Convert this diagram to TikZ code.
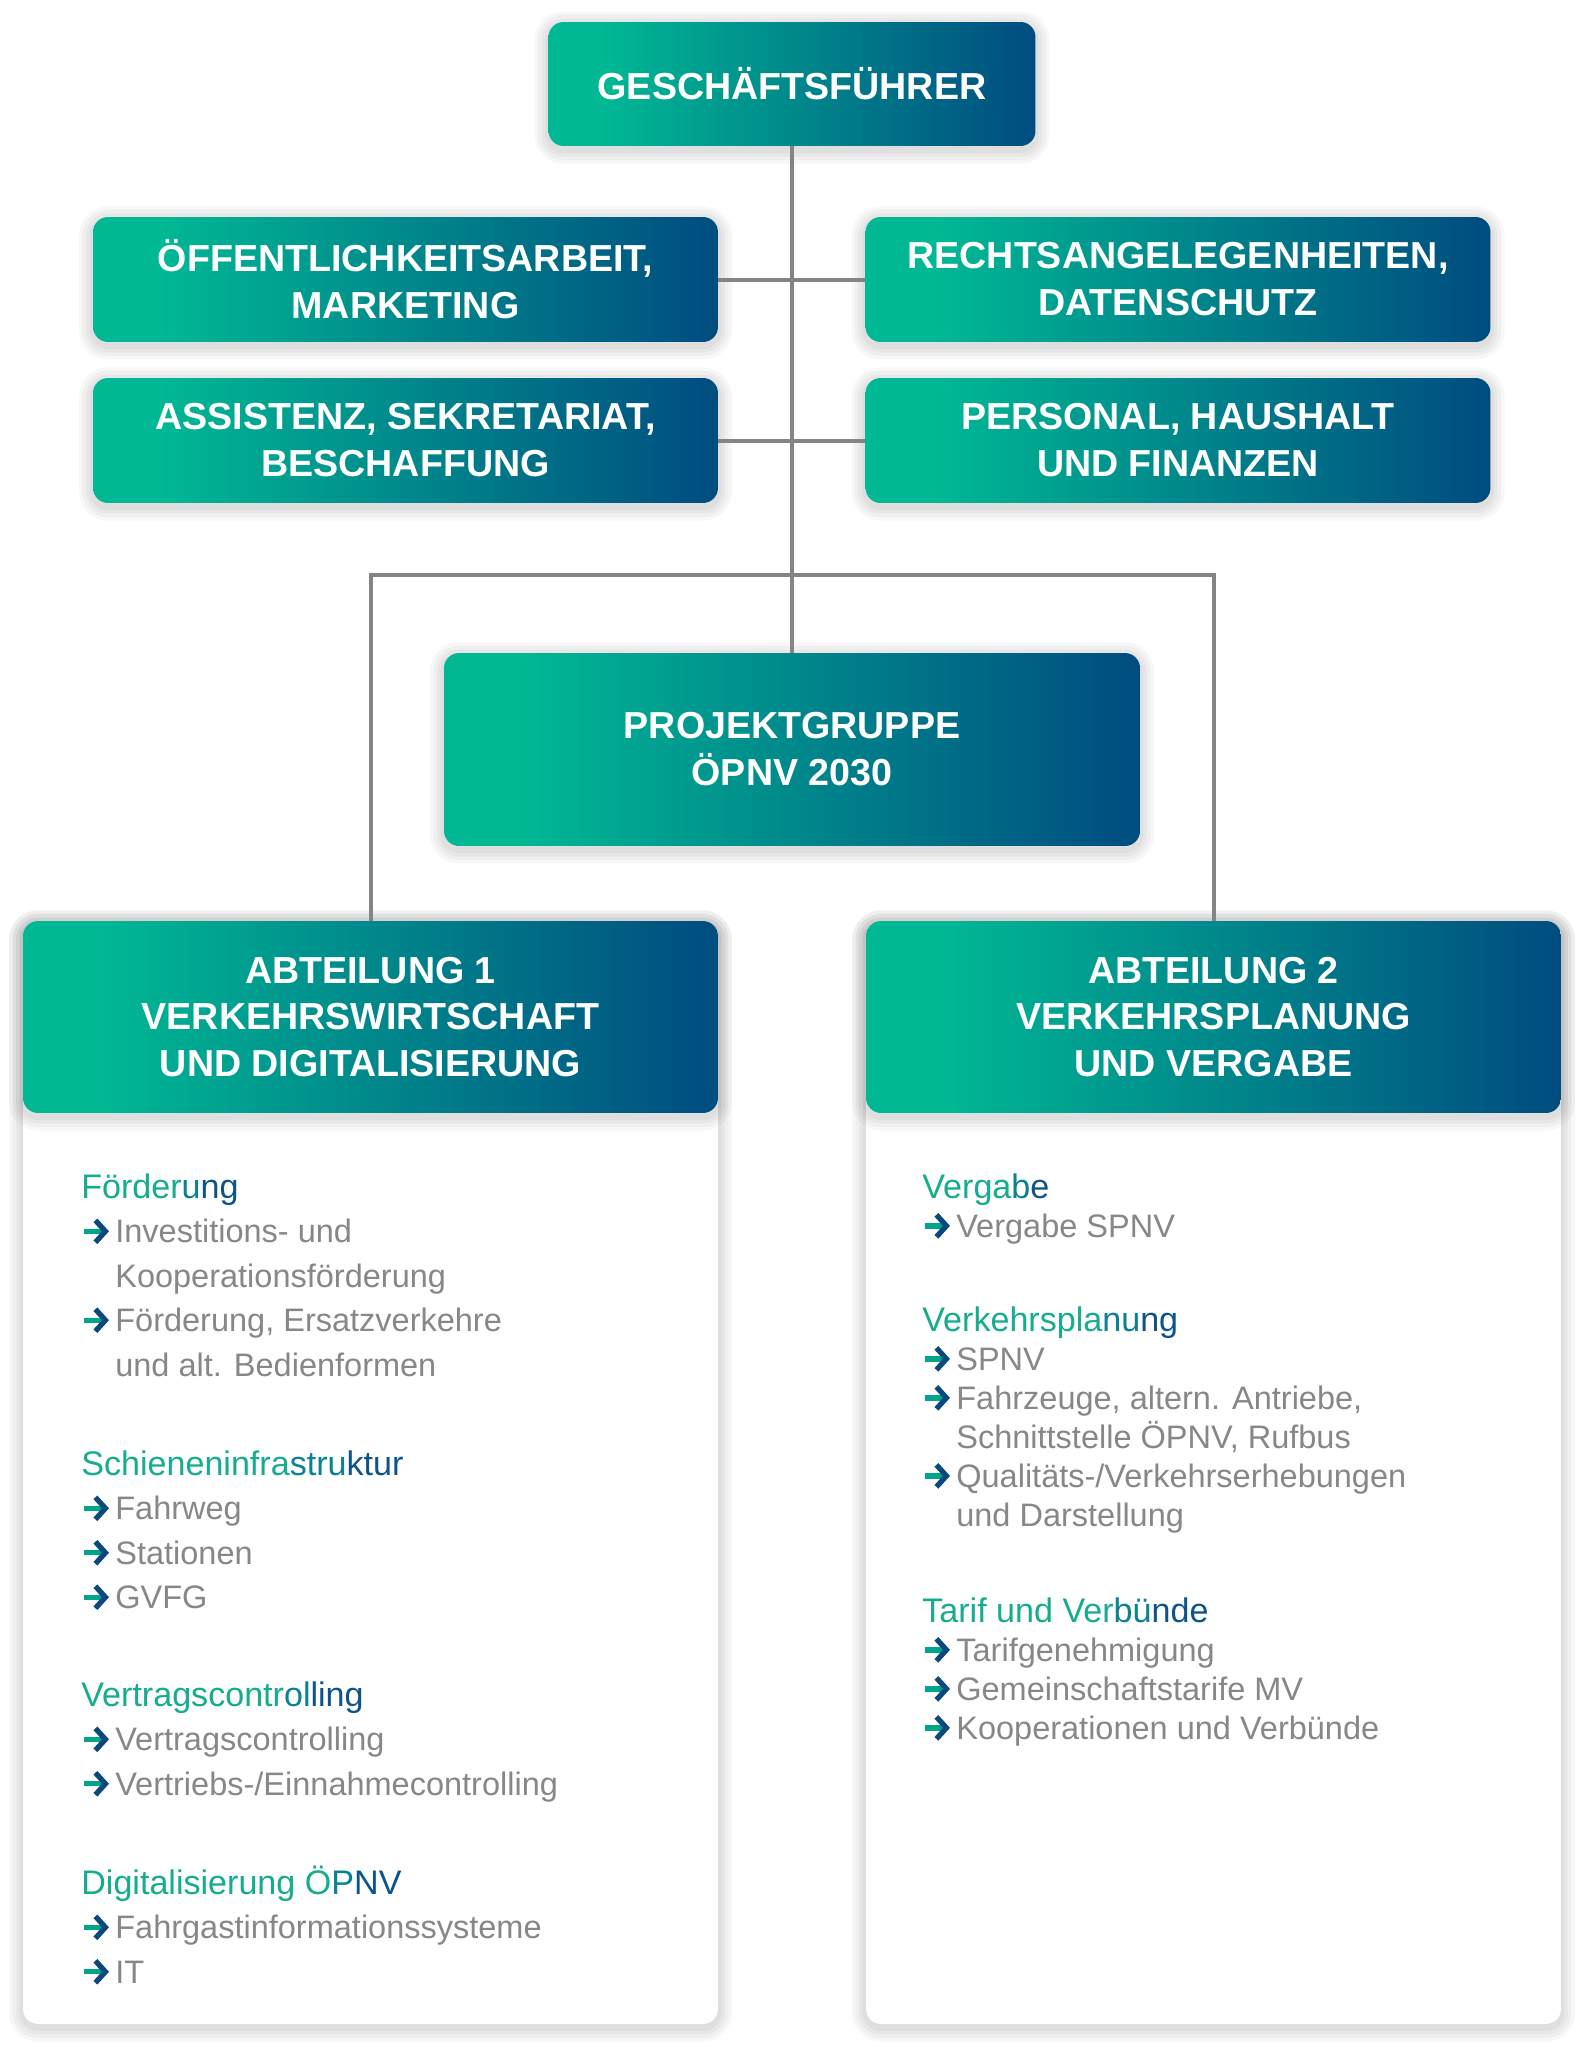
\documentclass[tikz,border=0pt]{standalone}
\usepackage{fontspec}
\setmainfont{Liberation Sans}
\usetikzlibrary{arrows.meta,shadows}

\definecolor{tuerkis}{RGB}{0,185,148}
\definecolor{dunkelblau}{RGB}{0,76,128}
\definecolor{linienfarbe}{RGB}{132,132,132}
\definecolor{textgrau}{RGB}{135,135,135}
\definecolor{kopfA}{RGB}{22,172,142}
\definecolor{kopfB}{RGB}{10,130,148}
\definecolor{kopfC}{RGB}{14,84,138}
\definecolor{pfeilgruen}{RGB}{0,165,142}
\definecolor{pfeilblau}{RGB}{10,72,126}

\pgfdeclarehorizontalshading{verlauf}{100bp}{color(0bp)=(tuerkis); color(30bp)=(tuerkis); color(75bp)=(dunkelblau); color(100bp)=(dunkelblau)}

\newcommand{\links}{\fontsize{18.5pt}{25.3pt}\selectfont}
\newcommand{\rechts}{\fontsize{18.5pt}{22.2pt}\selectfont}
\newcommand{\pfeil}{\makebox[0.68cm][l]{\tikz[baseline=0pt]\draw[line width=3pt,pfeilgruen,-{Straight Barb[length=0.2cm,width=0.44cm,color=pfeilblau]}] (0,0.23cm) -- (0.5cm,0.23cm);}}
\newcommand{\einzug}{\hspace*{0.68cm}}
\newcommand{\ueber}[3]{\rule{0pt}{0.7cm}{\fontsize{19.4pt}{25pt}\selectfont\color{kopfA}#1\color{kopfB}#2\color{kopfC}#3}}

\begin{document}
\begin{tikzpicture}[x=0.02cm,y=-0.02cm,
    schatten/.style={
        general shadow={shadow yshift=-2pt, draw=black, draw opacity=0.03, line width=4pt},
        general shadow={shadow yshift=-2pt, draw=black, draw opacity=0.03, line width=8pt},
        general shadow={shadow yshift=-2pt, draw=black, draw opacity=0.03, line width=12pt},
        general shadow={shadow yshift=-2pt, draw=black, draw opacity=0.03, line width=16pt}},
    box/.style={rounded corners=0.3cm, shade, shading=verlauf, text=white, align=center, inner sep=0pt,
        font=\fontsize{21.4pt}{26.7pt}\selectfont\bfseries, schatten},
    karte/.style={rounded corners=0.3cm, fill=white, inner sep=0pt, schatten},
    abschnitt/.style={anchor=north west, inner sep=0pt, align=left, text=textgrau},
    linie/.style={draw=linienfarbe, line width=0.08cm}]
\fill[white] (0,0) rectangle (1584,2048);
\useasboundingbox (0,0) rectangle (1584,2048);

% Leitung und Stabsstellen
\node[box, minimum width=9.74cm, minimum height=2.48cm] (gf) at (792,84) {GESCHÄFTSFÜHRER};
\node[box, minimum width=12.5cm, minimum height=2.5cm] (oeff) at (405.5,279.5) {ÖFFENTLICHKEITSARBEIT,\\MARKETING};
\node[box, minimum width=12.5cm, minimum height=2.5cm] (recht) at (1178,279.5) {RECHTSANGELEGENHEITEN,\\DATENSCHUTZ};
\node[box, minimum width=12.5cm, minimum height=2.5cm] (assist) at (405.5,440.5) {ASSISTENZ, SEKRETARIAT,\\BESCHAFFUNG};
\node[box, minimum width=12.5cm, minimum height=2.5cm] (pers) at (1178,440.5) {PERSONAL, HAUSHALT\\UND FINANZEN};
\node[box, minimum width=13.92cm, minimum height=3.86cm] (proj) at (792,749.5) {PROJEKTGRUPPE\\ÖPNV 2030};

% Abteilungen
\node[karte, minimum width=13.9cm, minimum height=22.06cm] (karte1) at (370.5,1472.5) {};
\node[karte, minimum width=13.9cm, minimum height=22.06cm] (karte2) at (1213.5,1472.5) {};
\node[box, minimum width=13.9cm, minimum height=3.84cm] (abt1) at (370.5,1017) {ABTEILUNG 1\\VERKEHRSWIRTSCHAFT\\UND DIGITALISIERUNG};
\node[box, minimum width=13.9cm, minimum height=3.84cm] (abt2) at (1213.5,1017) {ABTEILUNG 2\\VERKEHRSPLANUNG\\UND VERGABE};

% Linien
\coordinate (knoten) at (792,575);
\draw[linie] (gf.south) -- (proj.north);
\draw[linie] (oeff.east) -- (recht.west);
\draw[linie] (assist.east) -- (pers.west);
\draw[linie] (abt1.north) |- (knoten) -| (abt2.north);

% Abteilung 1
\node[abschnitt, font=\links] (foerd) at (81,1163) {\ueber{Förder}{u}{ng}\\
    \pfeil Investitions- und\\
    \einzug Kooperationsförderung\\
    \pfeil Förderung, Ersatzverkehre\\
    \einzug und alt. Bedienformen};
\node[abschnitt, font=\links] (schiene) at (81,1440) {\ueber{Schieneninfra}{stru}{ktur}\\
    \pfeil Fahrweg\\
    \pfeil Stationen\\
    \pfeil GVFG};
\node[abschnitt, font=\links] (vertrag) at (81,1671) {\ueber{Vertragscontr}{ol}{ling}\\
    \pfeil Vertragscontrolling\\
    \pfeil Vertriebs-/Einnahmecontrolling};
\node[abschnitt, font=\links] (digi) at (81,1859) {\ueber{Digitalisierung Ö}{P}{NV}\\
    \pfeil Fahrgastinformationssysteme\\
    \pfeil IT};

% Abteilung 2
\node[abschnitt, font=\rechts] (vergabe) at (922,1163) {\ueber{Verga}{b}{e}\\
    \pfeil Vergabe SPNV};
\node[abschnitt, font=\rechts] (planung) at (922,1296) {\ueber{Verkehrspla}{nu}{ng}\\
    \pfeil SPNV\\
    \pfeil Fahrzeuge, altern. Antriebe,\\
    \einzug Schnittstelle ÖPNV, Rufbus\\
    \pfeil Qualitäts-/Verkehrserhebungen\\
    \einzug und Darstellung};
\node[abschnitt, font=\rechts] (tarif) at (922,1587) {\ueber{Tarif und Ver}{bü}{nde}\\
    \pfeil Tarifgenehmigung\\
    \pfeil Gemeinschaftstarife MV\\
    \pfeil Kooperationen und Verbünde};
\end{tikzpicture}
\end{document}
